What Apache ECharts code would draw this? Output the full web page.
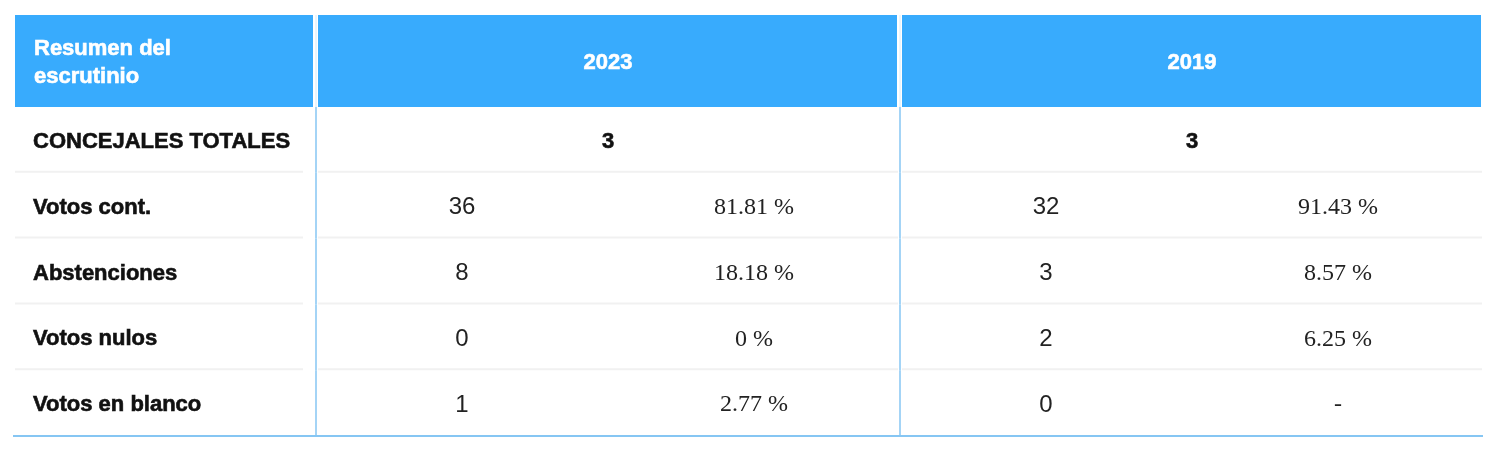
<!DOCTYPE html>
<html><head><meta charset="utf-8">
<script src="https://cdn.jsdelivr.net/npm/echarts@6/dist/echarts.min.js"></script>
<style>html,body{margin:0;padding:0;background:#fff}#c{width:1500px;height:459px}</style>
</head><body><div id="c"></div>
<script>
const columns = ['Resumen', '2023 votos', '2023 %', '2019 votos', '2019 %'];
const headerTitle = 'Resumen del\nescrutinio';
const years = ['2023', '2019'];
const rowLabels = ['CONCEJALES TOTALES', 'Votos cont.', 'Abstenciones', 'Votos nulos', 'Votos en blanco'];
const concejales = [3, 3];
const votes2023 = [36, 8, 0, 1];
const pct2023 = [81.81, 18.18, 0, 2.77];
const votes2019 = [32, 3, 2, 0];
const pct2019 = [91.43, 8.57, 6.25, null];

const BLUE = '#38abfd', LINE = '#86c6f3', SEP = '#f1f1f1';
const SANS = '"Liberation Sans", Arial, sans-serif';
const SERIF = '"Liberation Serif", "Times New Roman", serif';

function fmtPct(v) { return v == null ? '-' : v + ' %'; }

// header cells: [startCol, row, endCol]
const headerCells = [[0, 0, 0], [1, 0, 2], [3, 0, 4]];
const headerTexts = [headerTitle, years[0], years[1]];

// body cells: [startCol, row, endCol]
const bodyCells = [];
const bodyTexts = [];
rowLabels.forEach((lab, r) => {
  bodyCells.push([0, r, 0]); bodyTexts.push({ t: lab, kind: 'label' });
  if (r === 0) {
    bodyCells.push([1, r, 2]); bodyTexts.push({ t: String(concejales[0]), kind: 'bold' });
    bodyCells.push([3, r, 4]); bodyTexts.push({ t: String(concejales[1]), kind: 'bold' });
  } else {
    const i = r - 1;
    bodyCells.push([1, r, 1]); bodyTexts.push({ t: String(votes2023[i]), kind: 'num' });
    bodyCells.push([2, r, 2]); bodyTexts.push({ t: fmtPct(pct2023[i]), kind: 'pct' });
    bodyCells.push([3, r, 3]); bodyTexts.push({ t: String(votes2019[i]), kind: 'num' });
    bodyCells.push([4, r, 4]); bodyTexts.push({ t: fmtPct(pct2019[i]), kind: 'pct' });
  }
});

function cellBox(api) {
  const s = api.value(0), r = api.value(1), e = api.value(2);
  const sz = api.size([1, 1]);
  const cs = api.coord([s, r]), ce = api.coord([e, r]);
  return { s, r, e, x0: cs[0] - sz[0] / 2, x1: ce[0] + sz[0] / 2, y0: cs[1] - sz[1] / 2, h: sz[1], yc: cs[1] };
}

function renderHeader(params, api) {
  const b = cellBox(api);
  const first = b.s === 0;
  const rx0 = first ? b.x0 - 7 : b.x0 + 4;
  const rx1 = b.x1 - 1;
  const children = [{
    type: 'rect', shape: { x: rx0, y: b.y0, width: rx1 - rx0, height: b.h },
    style: { fill: BLUE }
  }, {
    type: 'text',
    style: {
      text: headerTexts[params.dataIndex],
      x: first ? b.x0 + 12 : (b.x0 + b.x1) / 2 + 2, y: b.yc + 2,
      align: first ? 'left' : 'center', verticalAlign: 'middle',
      fontFamily: SANS, fontWeight: 'bold', fontSize: 22, lineHeight: 28, fill: '#ffffff',
      stroke: '#ffffff', lineWidth: 0.6
    }
  }];
  if (!first) {
    children.push({ type: 'line', shape: { x1: b.x0 + 2, y1: b.y0, x2: b.x0 + 2, y2: b.y0 + b.h }, style: { stroke: '#d6ecfb', lineWidth: 1 } });
  }
  return { type: 'group', children };
}

function renderBody(params, api) {
  const b = cellBox(api);
  const first = b.s === 0;
  const info = bodyTexts[params.dataIndex];
  const last = b.r === rowLabels.length - 1;
  let style = { fill: '#222222', fontFamily: SANS, fontSize: 24, fontWeight: 'normal' };
  if (info.kind === 'label') style = { fill: '#111111', fontFamily: SANS, fontSize: 22, fontWeight: 'bold', stroke: '#111111', lineWidth: 0.6 };
  if (info.kind === 'bold') style = { fill: '#111111', fontFamily: SANS, fontSize: 22, fontWeight: 'bold', stroke: '#111111', lineWidth: 0.6 };
  if (info.kind === 'pct') style = { fill: '#222222', fontFamily: SERIF, fontSize: 24, fontWeight: 'normal' };
  const children = [{
    type: 'text',
    style: Object.assign({
      text: info.t,
      x: first ? b.x0 + 11 : (b.x0 + b.x1) / 2 + 2, y: b.yc + 2,
      align: first ? 'left' : 'center', verticalAlign: 'middle'
    }, style)
  }];
  if (!last) {
    const lx0 = first ? b.x0 - 7 : ((b.s === 1 || b.s === 3) ? b.x0 + 4 : b.x0);
    const lx1 = first ? b.x1 - 11 : b.x1;
    children.push({ type: 'line', shape: { x1: lx0, y1: b.y0 + b.h - 1, x2: lx1, y2: b.y0 + b.h - 1 }, style: { stroke: SEP, lineWidth: 2 } });
  } else {
    const lx0 = first ? b.x0 - 9 : b.x0;
    const lx1 = b.e === columns.length - 1 ? b.x1 + 1 : b.x1;
    children.push({ type: 'line', shape: { x1: lx0, y1: b.y0 + b.h, x2: lx1, y2: b.y0 + b.h }, style: { stroke: LINE, lineWidth: 2 } });
  }
  if (b.s === 1 || b.s === 3) {
    children.push({ type: 'line', shape: { x1: b.x0 + 2, y1: b.y0, x2: b.x0 + 2, y2: b.y0 + b.h }, style: { stroke: LINE, lineWidth: 1.5 } });
  }
  return { type: 'group', children };
}

const chart = echarts.init(document.getElementById('c'));
chart.setOption({
  animation: false,
  backgroundColor: '#ffffff',
  grid: [
    { left: 22, right: 18, top: 15, height: 92 },
    { left: 22, right: 18, top: 107, height: 329 }
  ],
  xAxis: [
    { type: 'category', gridIndex: 0, data: columns, show: false },
    { type: 'category', gridIndex: 1, data: columns, show: false }
  ],
  yAxis: [
    { type: 'category', gridIndex: 0, data: ['header'], show: false },
    { type: 'category', gridIndex: 1, data: rowLabels, inverse: true, show: false }
  ],
  series: [
    { type: 'custom', xAxisIndex: 0, yAxisIndex: 0, renderItem: renderHeader, data: headerCells, encode: { x: 0, y: 1 }, clip: false },
    { type: 'custom', xAxisIndex: 1, yAxisIndex: 1, renderItem: renderBody, data: bodyCells, encode: { x: 0, y: 1 }, clip: false }
  ]
});
</script>
</body></html>
